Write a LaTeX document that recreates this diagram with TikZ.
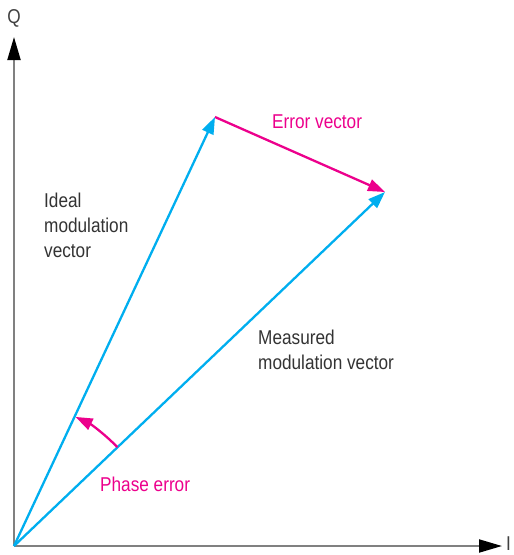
\documentclass[tikz,border=0pt]{standalone}
\usepackage{fontspec}
\setmainfont{Liberation Sans}[FakeStretch=0.86]
\usepackage{tikz}
\usetikzlibrary{arrows.meta}
\usetikzlibrary{positioning}
\definecolor{vecblue}{RGB}{0,174,239}
\definecolor{errpink}{RGB}{236,0,140}

\begin{document}
\begin{tikzpicture}[x=1pt, y=-1pt, >={Triangle[length=17pt,width=12pt]},
		axis/.style={draw=gray, line width=2pt, -{Triangle[length=23pt,width=13pt,color=black]}},
		vec/.style={draw=vecblue, line width=2.3pt, ->, vecblue},
		errvec/.style={draw=errpink, line width=2.3pt, ->, errpink},
		lbl/.style={font=\fontsize{20}{25}\selectfont, align=left, inner sep=0pt}]
			\useasboundingbox (0,0) rectangle (514,555);
			\coordinate (O) at (14,546);
			\coordinate (Qtip) at (14,37);
			\coordinate (Itip) at (502,546);
			\coordinate (Ideal) at (215,117);
			\coordinate (Meas) at (385,192);
			\node[lbl, text=black!75] (Q) at (14,18) {Q};
			\node[lbl, text=black!75, anchor=east] (I) at (511,544) {I};
			\draw[axis] (O) -- (Qtip);
			\draw[axis] (O) -- (Itip);
			\draw[vec] (O) -- (Ideal);
			\draw[vec] (O) -- (Meas);
			\draw[errvec] (Ideal) -- (Meas);
			\draw[errvec] (O) ++(-43.7:143) arc[start angle=-43.7, end angle=-64.5, radius=143];
			\node[lbl, text=black!80, anchor=north west] (IdealLbl) at (44,193) {Ideal\\modulation\\vector};
			\node[lbl, text=black!80, anchor=north west] (MeasLbl) at (258,330) {Measured\\modulation vector};
			\node[lbl, text=errpink, anchor=north west] (ErrLbl) at (272,115) {Error vector};
			\node[lbl, text=errpink, anchor=north west] (PhaseLbl) at (100,477) {Phase error};
		\end{tikzpicture}
\end{document}
